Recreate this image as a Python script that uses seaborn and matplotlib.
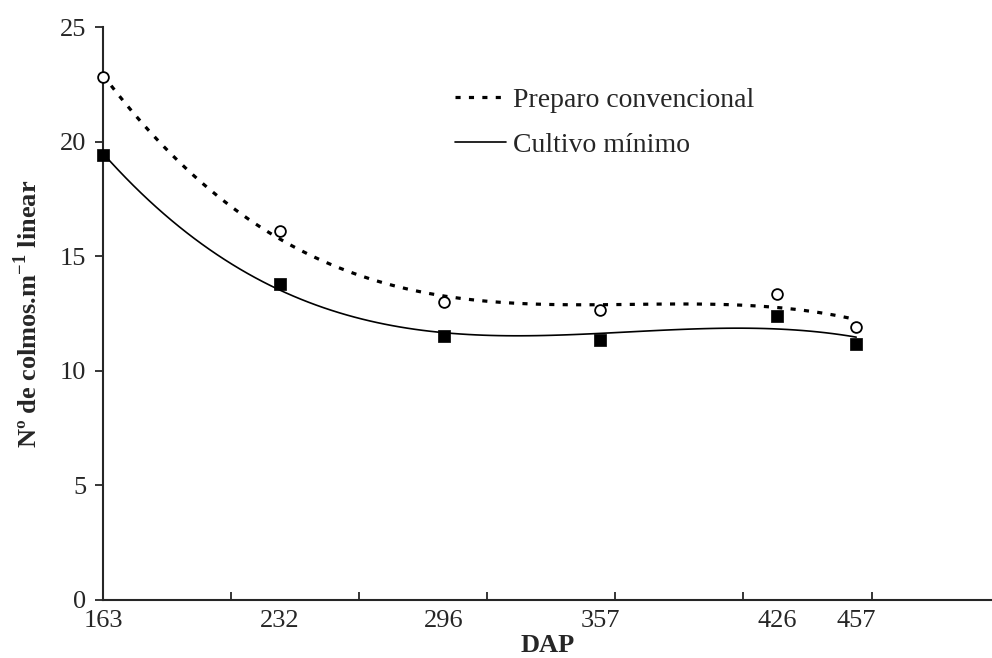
import numpy as np
import pandas as pd
import matplotlib
matplotlib.use("Agg")
import matplotlib.pyplot as plt
import seaborn as sns
import warnings
warnings.filterwarnings("ignore")

# Data
dap = [163, 232, 296, 357, 426, 457]
preparo_convencional = [22.8, 16.1, 13.0, 12.65, 13.35, 11.9]
cultivo_minimo = [19.4, 13.8, 11.5, 11.35, 12.4, 11.15]
series_labels = ["Preparo convencional", "Cultivo mínimo"]
y_ticks = [0, 5, 10, 15, 20, 25]

sns.set_style("ticks")
plt.rcParams["font.family"] = ["Liberation Serif", "DejaVu Serif"]
plt.rcParams["mathtext.fontset"] = "custom"
plt.rcParams["mathtext.rm"] = "Liberation Serif"
plt.rcParams["mathtext.bf"] = "Liberation Serif:bold"

fig = plt.figure(figsize=(9.92, 6.58), dpi=100)
ax = fig.add_axes([103 / 992, 58 / 658, 889 / 992, 573 / 658])

df = pd.DataFrame({"DAP": dap, "PC": preparo_convencional, "CM": cultivo_minimo})

# polynomial (order 3) trend lines
sns.regplot(data=df, x="DAP", y="PC", order=3, ci=None, scatter=False, ax=ax,
            line_kws=dict(color="black", lw=2.3, linestyle=(0, (1.6, 2.6))))
line_pc = ax.lines[-1]
sns.regplot(data=df, x="DAP", y="CM", order=3, ci=None, scatter=False, ax=ax,
            line_kws=dict(color="black", lw=1.2, linestyle="-"))
line_cm = ax.lines[-1]

sns.scatterplot(data=df, x="DAP", y="PC", marker="o", s=60, facecolor="white",
                edgecolor="black", linewidth=1.3, ax=ax, zorder=5, clip_on=False)
sns.scatterplot(data=df, x="DAP", y="CM", marker="s", s=75, color="black",
                edgecolor="black", linewidth=0.5, ax=ax, zorder=5, clip_on=False)

ax.set_xlim(163, 510)
ax.set_ylim(0, 25)
ax.set_yticks(y_ticks)
ax.set_yticklabels([str(v) for v in y_ticks], fontsize=19)

# labels at the DAP values (no marks), tick marks every 50 days
ax.set_xticks(dap)
ax.set_xticklabels([str(v) for v in dap], fontsize=19)
ax.set_xticks(np.arange(213, 510, 50), minor=True)
ax.tick_params(axis="x", which="major", length=0, pad=7)
ax.tick_params(axis="x", which="minor", length=6, width=1.3, direction="in")
ax.tick_params(axis="y", length=6, width=1.3, direction="out", pad=6)

for side in ["top", "right"]:
    ax.spines[side].set_visible(False)
for side in ["left", "bottom"]:
    ax.spines[side].set_linewidth(1.5)

ax.set_xlabel("DAP", fontsize=19, fontweight="bold", labelpad=1.5)
ax.set_ylabel(r"Nº de colmos.m$^{\mathbf{-1}}$ linear", fontsize=19,
              fontweight="bold", labelpad=13)

leg = ax.legend(handles=[line_pc, line_cm], labels=series_labels,
                loc="upper left", bbox_to_anchor=(0.396, 0.894), frameon=False,
                fontsize=20, handlelength=1.85, handletextpad=0.25,
                borderpad=0, borderaxespad=0, labelspacing=0.68)

fig.savefig("out.png", dpi=100)
